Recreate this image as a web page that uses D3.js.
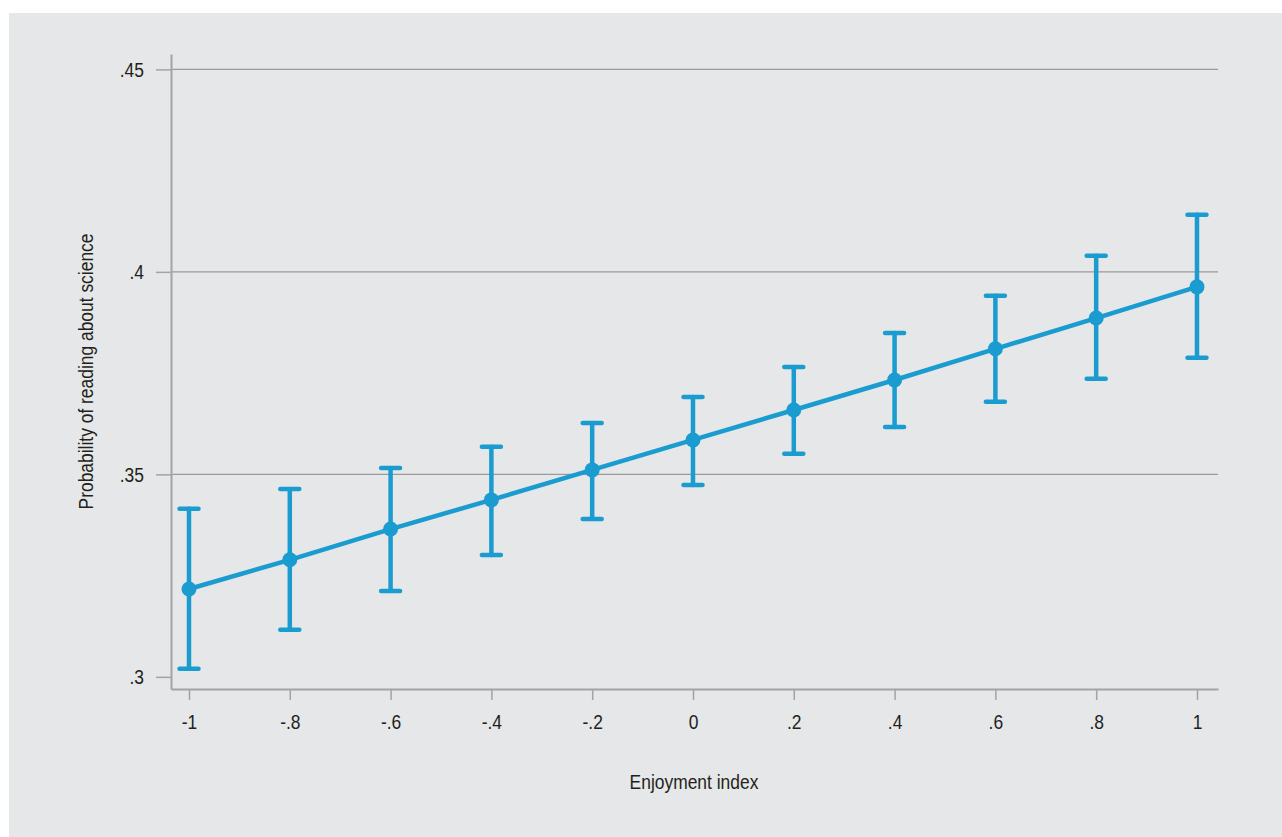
<!DOCTYPE html>
<html><head><meta charset="utf-8">
<script src="https://cdn.jsdelivr.net/npm/d3@7"></script>
<style>
html,body{margin:0;padding:0;background:#fff;}
svg{display:block;}
text{font-family:"Liberation Sans",Arial,sans-serif;fill:#231f20;}
</style></head><body>
<svg id="chart" width="1282" height="837"></svg>
<script>
const xValues = [-1, -0.8, -0.6, -0.4, -0.2, 0, 0.2, 0.4, 0.6, 0.8, 1];
const estimates = [0.3217, 0.3289, 0.3365, 0.3437, 0.3511, 0.3585, 0.3659, 0.3733, 0.3810, 0.3886, 0.3963];
const ciUpper = [0.3415, 0.3464, 0.3516, 0.3568, 0.3627, 0.3691, 0.3765, 0.3849, 0.3941, 0.4040, 0.4141];
const ciLower = [0.3020, 0.3116, 0.3212, 0.3301, 0.3390, 0.3474, 0.3551, 0.3617, 0.3679, 0.3736, 0.3788];
const xTicks = [-1, -0.8, -0.6, -0.4, -0.2, 0, 0.2, 0.4, 0.6, 0.8, 1];
const xTickLabels = ["-1", "-.8", "-.6", "-.4", "-.2", "0", ".2", ".4", ".6", ".8", "1"];
const yTicks = [0.3, 0.35, 0.4, 0.45];
const yTickLabels = [".3", ".35", ".4", ".45"];
const xTitle = "Enjoyment index";
const yTitle = "Probability of reading about science";

const svg = d3.select("#chart");
const color = "#1a9cd0";
const axisColor = "#a3a3a3";
const sx = 0.83; // horizontal condensation of text

svg.append("rect").attr("x", 9).attr("y", 13).attr("width", 1273).attr("height", 824).attr("fill", "#e6e7e8");

const x = d3.scaleLinear().domain([-1.0357, 1.0417]).range([171, 1218]);
const y = d3.scaleLinear().domain([0.2970, 0.4538]).range([689, 54]);

// gridlines
svg.append("g").selectAll("line").data(yTicks.slice(1)).join("line")
  .attr("x1", x(-1.0357)).attr("x2", x(1.0417))
  .attr("y1", d => y(d)).attr("y2", d => y(d))
  .attr("stroke", "#9a9a9a").attr("stroke-width", 1.3);

// x axis
const xAxis = d3.axisBottom(x).tickValues(xTicks).tickFormat((d, i) => xTickLabels[i]).tickSize(11).tickPadding(14).tickSizeOuter(0);
const gx = svg.append("g").attr("transform", `translate(0,${y(0.2970)})`).call(xAxis);
gx.select(".domain").attr("stroke", axisColor).attr("stroke-width", 2);
gx.selectAll(".tick line").attr("stroke", axisColor).attr("stroke-width", 1.5);
gx.selectAll(".tick text").attr("font-size", 21).attr("font-family", null).attr("fill", "#231f20")
  .attr("transform", `scale(${sx},1)`);

// y axis
const yAxis = d3.axisLeft(y).tickValues(yTicks).tickFormat((d, i) => yTickLabels[i]).tickSize(15).tickPadding(11).tickSizeOuter(0);
const gy = svg.append("g").attr("transform", `translate(${x(-1.0357)},0)`).call(yAxis);
gy.select(".domain").attr("stroke", axisColor).attr("stroke-width", 2);
gy.selectAll(".tick line").attr("stroke", axisColor).attr("stroke-width", 1.5);
gy.selectAll(".tick text").attr("font-size", 21).attr("font-family", null).attr("fill", "#231f20")
  .attr("x", -27 / sx).attr("transform", `scale(${sx},1)`);

// titles
svg.append("text").attr("transform", `translate(694,789) scale(${sx},1)`).attr("text-anchor", "middle").attr("font-size", 21).text(xTitle);
svg.append("text").attr("transform", `translate(93,${(y(0.2970)+y(0.4538))/2}) rotate(-90) scale(${sx},1)`)
  .attr("text-anchor", "middle").attr("font-size", 21).text(yTitle);

const data = xValues.map((v, i) => ({x: v, est: estimates[i], lo: ciLower[i], hi: ciUpper[i]}));

// error bars
const eb = svg.append("g").attr("stroke", color).attr("stroke-width", 4.5).attr("stroke-linecap", "round");
eb.selectAll("line.v").data(data).join("line").attr("class", "v")
  .attr("x1", d => x(d.x)).attr("x2", d => x(d.x)).attr("y1", d => y(d.lo)).attr("y2", d => y(d.hi));
eb.selectAll("line.t").data(data).join("line").attr("class", "t")
  .attr("x1", d => x(d.x) - 9.5).attr("x2", d => x(d.x) + 9.5).attr("y1", d => y(d.hi)).attr("y2", d => y(d.hi));
eb.selectAll("line.b").data(data).join("line").attr("class", "b")
  .attr("x1", d => x(d.x) - 9.5).attr("x2", d => x(d.x) + 9.5).attr("y1", d => y(d.lo)).attr("y2", d => y(d.lo));

// line
svg.append("path").datum(data)
  .attr("d", d3.line().x(d => x(d.x)).y(d => y(d.est)))
  .attr("fill", "none").attr("stroke", color).attr("stroke-width", 4.5);

// points
svg.append("g").selectAll("circle").data(data).join("circle")
  .attr("cx", d => x(d.x)).attr("cy", d => y(d.est)).attr("r", 7.5).attr("fill", color);
</script>
</body></html>
